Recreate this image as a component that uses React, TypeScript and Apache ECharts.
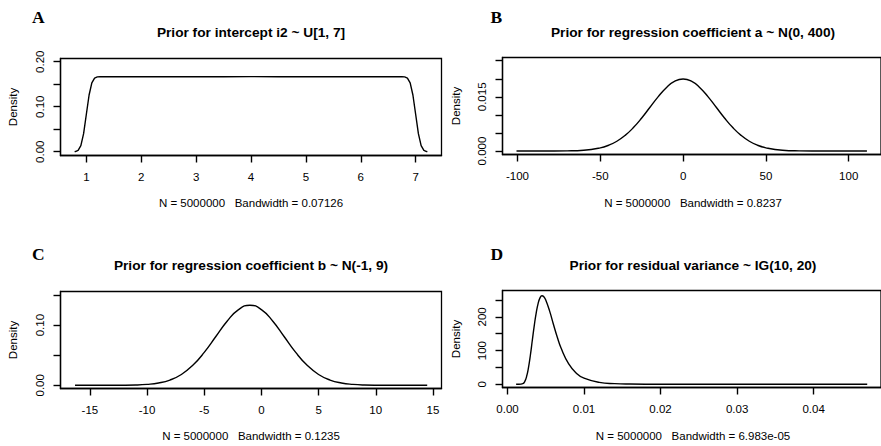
import React, { useEffect, useRef } from "react";
import * as echarts from "echarts";

// ---------- Panel A: intercept i2 ~ U[1, 7] ----------
const aX = [0.786, 0.8, 0.85, 0.9, 0.95, 1.0, 1.05, 1.1, 1.15, 1.2, 1.25, 1.35, 1.5, 2, 2.5, 3, 3.5, 4, 4.5, 5, 5.5, 6, 6.5, 6.65, 6.75, 6.8, 6.85, 6.9, 6.95, 7.0, 7.05, 7.1, 7.15, 7.2, 7.214];
const aY = [0.0002, 0.0004, 0.003, 0.0135, 0.04, 0.0833, 0.126, 0.153, 0.1637, 0.1662, 0.1666, 0.1667, 0.1668, 0.1666, 0.1665, 0.1666, 0.1667, 0.1668, 0.1667, 0.1666, 0.1668, 0.1666, 0.1667, 0.1667, 0.1666, 0.1662, 0.1637, 0.153, 0.126, 0.0833, 0.04, 0.0135, 0.003, 0.0004, 0.0002];
const aXTicks = [1, 2, 3, 4, 5, 6, 7];
const aYTicks = [0, 0.05, 0.1, 0.15, 0.2];
const aYLabels = [0, 0.1, 0.2];

// ---------- Panel B: a ~ N(0, 400) ----------
const bX = [-100.6, -90, -80, -70, -60, -50, -45, -40, -35, -30, -25, -20, -15, -10, -5, 0, 5, 10, 15, 20, 25, 30, 35, 40, 45, 50, 60, 70, 80, 90, 100, 111];
const bY = [0, 0, 0.0000067, 0.000044, 0.00022, 0.00088, 0.00159, 0.0027, 0.00432, 0.00648, 0.00913, 0.0121, 0.01506, 0.01761, 0.01934, 0.01995, 0.01934, 0.01761, 0.01506, 0.0121, 0.00913, 0.00648, 0.00432, 0.0027, 0.00159, 0.00088, 0.00022, 0.000044, 0.0000067, 0, 0, 0];
const bXTicks = [-100, -50, 0, 50, 100];
const bYTicks = [0, 0.005, 0.01, 0.015, 0.02, 0.025];
const bYLabels = [0, 0.015];

// ---------- Panel C: b ~ N(-1, 9) ----------
const cX = [-16.3, -15, -13, -11, -10, -9, -8, -7, -6, -5, -4, -3, -2, -1, 0, 1, 2, 3, 4, 5, 6, 7, 8, 9, 11, 13, 14.5];
const cY = [0, 0, 0.000045, 0.00051, 0.00148, 0.0038, 0.00874, 0.018, 0.0332, 0.0547, 0.0807, 0.1065, 0.1258, 0.133, 0.1258, 0.1065, 0.0807, 0.0547, 0.0332, 0.018, 0.00874, 0.0038, 0.00148, 0.00051, 0.000045, 0, 0];
const cXTicks = [-15, -10, -5, 0, 5, 10, 15];
const cYTicks = [0, 0.05, 0.1, 0.15];
const cYLabels = [0, 0.1];

// ---------- Panel D: residual variance ~ IG(10, 20) ----------
const dX = [0.00113, 0.0015, 0.002, 0.00225, 0.0025, 0.00275, 0.003, 0.00325, 0.0035, 0.00375, 0.004, 0.00425, 0.0045, 0.00475, 0.005, 0.0055, 0.006, 0.0065, 0.007, 0.008, 0.009, 0.01, 0.012, 0.014, 0.016, 0.02, 0.025, 0.03, 0.04, 0.047];
const dY = [0, 0.01, 1.82, 8.03, 23.3, 50.3, 87.7, 131.3, 174.2, 211.4, 239.2, 256.3, 262.6, 259.9, 250.2, 217.7, 178.3, 140.4, 107.5, 60.5, 33.1, 18.1, 5.61, 1.87, 0.67, 0.108, 0.015, 0, 0, 0];
const dXTicks = [0, 0.01, 0.02, 0.03, 0.04];
const dYTicks = [0, 50, 100, 150, 200, 250];
const dYLabels = [0, 100, 200];

const panelLetters = ["A", "B", "C", "D"];
const titles = [
  "Prior for intercept i2 ~ U[1, 7]",
  "Prior for regression coefficient a ~ N(0, 400)",
  "Prior for regression coefficient b ~ N(-1, 9)",
  "Prior for residual variance ~ IG(10, 20)",
];
const subtitles = [
  "N = 5000000   Bandwidth = 0.07126",
  "N = 5000000   Bandwidth = 0.8237",
  "N = 5000000   Bandwidth = 0.1235",
  "N = 5000000   Bandwidth = 6.983e-05",
];
const yAxisName = "Density";

const SANS = "'Liberation Sans', Arial, Helvetica, sans-serif";
const SERIF = "'Liberation Serif', 'Times New Roman', serif";

const zip = (xs: number[], ys: number[]) => xs.map((x, i) => [x, ys[i]]);

export default function App() {
  const ref = useRef<HTMLDivElement>(null);
  useEffect(() => {
    if (!ref.current) return;
    const chart = echarts.init(ref.current, undefined, { renderer: "svg" });

    const grids = [
      { left: 60.5, top: 58.5, width: 381, height: 97 },
      { left: 502.5, top: 57.5, width: 381.7, height: 97 },
      { left: 60.5, top: 291.5, width: 381, height: 97 },
      { left: 502.5, top: 290.5, width: 381.8, height: 97 },
    ];
    const xRanges = [
      [0.529, 7.471],
      [-109.06, 119.5],
      [-17.57, 15.75],
      [-0.00065, 0.0488],
    ];
    const yRanges = [
      [-0.0084, 0.2071],
      [-0.00097, 0.02589],
      [-0.0053, 0.1558],
      [-9.5, 278.2],
    ];
    const xTicks = [aXTicks, bXTicks, cXTicks, dXTicks];
    const yTicks = [aYTicks, bYTicks, cYTicks, dYTicks];
    const yLabels = [aYLabels, bYLabels, cYLabels, dYLabels];
    const xFmt = [
      (v: number) => String(Math.round(v)),
      (v: number) => String(Math.round(v)),
      (v: number) => String(Math.round(v)),
      (v: number) => v.toFixed(2),
    ];
    const yFmt = [
      (v: number) => v.toFixed(2),
      (v: number) => v.toFixed(3),
      (v: number) => v.toFixed(2),
      (v: number) => String(Math.round(v)),
    ];
    const seriesData = [zip(aX, aY), zip(bX, bY), zip(cX, cY), zip(dX, dY)];

    const centered = { textAlign: "center", textVerticalAlign: "middle", align: "center", verticalAlign: "middle" };
    const graphics: any[] = [];
    grids.forEach((g, i) => {
      const right = i % 2 === 1;
      const cx = right ? 693 : 251;
      const rowOff = i < 2 ? 0 : 233;
      graphics.push({
        type: "text",
        x: right ? 490.5 : 32,
        y: 16.5 + rowOff + (i >= 2 ? 4.5 : 0),
        style: { text: panelLetters[i], font: `bold 17.5px ${SERIF}`, fill: "#000", textAlign: "left", textVerticalAlign: "middle", align: "left", verticalAlign: "middle" },
      });
      graphics.push({
        type: "text",
        x: cx,
        y: 32 + rowOff,
        style: { text: titles[i], font: `bold 13.7px ${SANS}`, fill: "#000", ...centered },
      });
      graphics.push({
        type: "text",
        x: cx,
        y: 203 + rowOff,
        style: { text: subtitles[i], font: `11.5px ${SANS}`, fill: "#000", ...centered },
      });
      graphics.push({
        type: "text",
        x: right ? 455.5 : 12.5,
        y: g.top + g.height / 2,
        rotation: Math.PI / 2,
        style: { text: yAxisName, font: `11.5px ${SANS}`, fill: "#000", ...centered },
      });
    });

    const option: any = {
      animation: false,
      backgroundColor: "#fff",
      grid: grids.map((g) => ({ ...g, show: true, borderColor: "#000", borderWidth: 1.3, backgroundColor: "transparent", containLabel: false })),
      xAxis: grids.map((_, i) => ({
        type: "value",
        gridIndex: i,
        min: xRanges[i][0],
        max: xRanges[i][1],
        axisLine: { show: true, onZero: false, lineStyle: { color: "#000", width: 1.3 } },
        axisTick: { show: true, length: 7, lineStyle: { color: "#000", width: 1.4 }, customValues: xTicks[i] },
        axisLabel: { show: true, customValues: xTicks[i], formatter: xFmt[i], color: "#000", fontSize: 11.5, fontFamily: SANS, margin: 15 },
        splitLine: { show: false },
      })),
      yAxis: grids.map((_, i) => ({
        type: "value",
        gridIndex: i,
        min: yRanges[i][0],
        max: yRanges[i][1],
        axisLine: { show: true, onZero: false, lineStyle: { color: "#000", width: 1.3 } },
        axisTick: { show: true, length: 7, lineStyle: { color: "#000", width: 1.4 }, customValues: yTicks[i] },
        axisLabel: { show: true, customValues: yLabels[i], formatter: yFmt[i], color: "#000", fontSize: 11.5, fontFamily: SANS, margin: 15, rotate: 90 },
        splitLine: { show: false },
      })),
      series: seriesData.map((d, i) => ({
        type: "line",
        xAxisIndex: i,
        yAxisIndex: i,
        data: d,
        showSymbol: false,
        symbol: "none",
        smooth: i === 0 ? false : true,
        lineStyle: { color: "#000", width: 1.4 },
        silent: true,
      })),
      graphic: { elements: graphics },
    };
    chart.setOption(option);
    return () => chart.dispose();
  }, []);
  return <div ref={ref} style={{ position: "absolute", left: 0, top: 0, width: 881, height: 446 }} />;
}
